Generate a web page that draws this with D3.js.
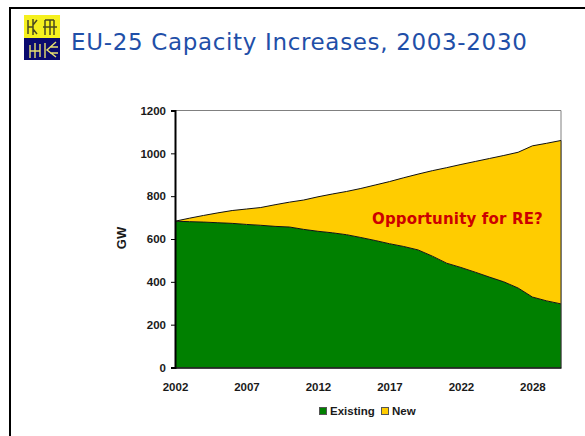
<!DOCTYPE html>
<html>
<head>
<meta charset="utf-8">
<style>
  html, body { margin: 0; padding: 0; background: #fff; }
  svg { display: block; }
  .tick-label { font: bold 11.5px "Liberation Sans", Arial, sans-serif; fill: #1a1a1a; }
</style>
<script src="https://cdn.jsdelivr.net/npm/d3@7/dist/d3.min.js"></script>
</head>
<body>
<svg id="slide" width="585" height="436"></svg>
<script>
// Installed capacity by year, in GW. There is no 2027 row in the series.
const years = ["2002","2003","2004","2005","2006","2007","2008","2009","2010","2011",
  "2012","2013","2014","2015","2016","2017","2018","2019","2020","2021",
  "2022","2023","2024","2025","2026","2028","2029","2030"];
const existing = [683,681,679,676,673,668,664,659,656,645,636,629,620,607,593,578,565,549,520,487,467,445,422,400,371,329,311,297];
const newBuild = [0,16,31,46,60,72,83,101,116,137,161,181,202,229,259,290,321,354,399,446,481,517,554,590,634,706,736,763];
const seriesNames = ["Existing", "New"];
const seriesColors = ["#008000", "#ffcc00"];
const yTicks = [0,200,400,600,800,1000,1200];
const xTickLabels = ["2002","2007","2012","2017","2022","2028"];

const svg = d3.select("#slide");
const plot = { left: 175, right: 561, top: 110.5, bottom: 367.5 };

const x = d3.scalePoint().domain(years).range([plot.left, plot.right]);
const y = d3.scaleLinear().domain([0, 1200]).range([plot.bottom, plot.top]);

// Slide frame
svg.append("path").attr("d", "M10,436V8H585")
  .attr("fill", "none").attr("stroke", "#000").attr("stroke-width", 2);

// Institute logo: yellow upper half, navy lower half
const logo = svg.append("g").attr("transform", "translate(24,15)");
logo.append("rect").attr("width", 36).attr("height", 23).attr("fill", "#f5f01e");
logo.append("rect").attr("y", 23).attr("width", 36).attr("height", 22).attr("fill", "#0a0a6e");
logo.append("path")
  .attr("d", "M4,5V19M9,4V20M4,12H9M13,5L9,10M13,19L9,14M21,5H30M21,5V20M30,5V20M26,5V20M19,12H33")
  .attr("fill", "none").attr("stroke", "#4a4a20").attr("stroke-width", 1.5);
logo.append("path")
  .attr("d", "M6,30V43M11,28V43M6,36H16M16,29V42M21,28V43M32,27L23,35L32,42M26,32L34,32M26,38L34,38")
  .attr("fill", "none").attr("stroke", "#e8e070").attr("stroke-width", 1.4);

// Title
svg.append("text").attr("x", 71).attr("y", 50)
  .attr("font-family", "'DejaVu Sans', Verdana, sans-serif")
  .attr("font-size", 23).attr("letter-spacing", 0.66).attr("fill", "#1f4fa8")
  .text("EU-25 Capacity Increases, 2003-2030");

// Stacked areas
const rows = years.map((year, i) => ({ year, Existing: existing[i], New: newBuild[i] }));
const stacked = d3.stack().keys(seriesNames)(rows);
const area = d3.area()
  .x(d => x(d.data.year))
  .y0(d => y(d[0]))
  .y1(d => y(d[1]));
const topEdge = d3.line()
  .x(d => x(d.data.year))
  .y(d => y(d[1]));

// Plot border, upper and right sides
svg.append("path")
  .attr("d", `M${plot.left},${plot.top}H${plot.right}V${plot.bottom}`)
  .attr("fill", "none").attr("stroke", "#808080").attr("stroke-width", 1);

svg.selectAll("path.band").data(stacked).join("path")
  .attr("class", "band")
  .attr("d", area)
  .attr("fill", (d, i) => seriesColors[i]);
svg.selectAll("path.edge").data(stacked).join("path")
  .attr("class", "edge")
  .attr("d", topEdge)
  .attr("fill", "none").attr("stroke", "#111").attr("stroke-width", 1);
svg.append("path")
  .attr("d", `M${plot.right},${y(1060)}V${plot.bottom}`)
  .attr("stroke", "#333").attr("stroke-width", 1).attr("fill", "none");

// Value axis
const yAxis = svg.append("g")
  .attr("transform", `translate(${plot.left},0)`)
  .call(d3.axisLeft(y).tickValues(yTicks).tickFormat(d3.format("d")).tickSize(4).tickPadding(5));
yAxis.select(".domain").attr("stroke", "#000").attr("stroke-width", 2);
yAxis.selectAll("line").attr("stroke", "#000");
yAxis.selectAll("text").attr("class", "tick-label");

// Year axis: labels only, with a solid baseline
const xAxis = svg.append("g")
  .attr("transform", `translate(0,${plot.bottom})`)
  .call(d3.axisBottom(x).tickValues(xTickLabels).tickSize(0).tickPadding(12));
xAxis.select(".domain").attr("stroke", "#000").attr("stroke-width", 1.5);
xAxis.selectAll("text").attr("class", "tick-label").attr("dy", "1em");

// Axis title
svg.append("text")
  .attr("transform", "translate(126,238) rotate(-90)")
  .attr("text-anchor", "middle")
  .attr("font-family", "'Liberation Sans', Arial, sans-serif")
  .attr("font-weight", "bold").attr("font-size", 13).attr("fill", "#1a1a1a")
  .text("GW");

// Annotation
svg.append("text").attr("x", 372).attr("y", 224)
  .attr("font-family", "'DejaVu Sans', Verdana, sans-serif")
  .attr("font-weight", "bold").attr("font-size", 15).attr("letter-spacing", 0.17).attr("fill", "#cc0000")
  .text("Opportunity for RE?");

// Legend
const legendX = [319, 381];
const legend = svg.selectAll("g.legend").data(seriesNames).join("g")
  .attr("class", "legend")
  .attr("transform", (d, i) => `translate(${legendX[i]},407)`);
legend.append("rect").attr("x", 0.5).attr("y", 0.5).attr("width", 7).attr("height", 7)
  .attr("fill", (d, i) => seriesColors[i]).attr("stroke", "#555");
legend.append("text").attr("x", 11).attr("y", 8)
  .attr("class", "tick-label").text(d => d);
</script>
</body>
</html>
